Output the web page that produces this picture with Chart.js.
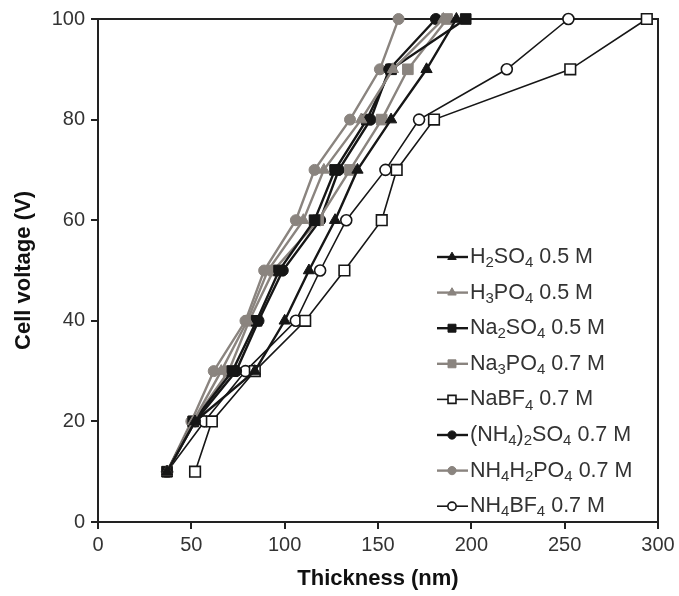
<!DOCTYPE html>
<html>
<head>
<meta charset="utf-8">
<title>Cell voltage vs thickness</title>
<script src="https://cdn.jsdelivr.net/npm/chart.js@4.4.1/dist/chart.umd.min.js"></script>
<style>
  body { margin: 0; background: #fff; }
  canvas { display: block; }
</style>
</head>
<body>
<canvas id="chart" width="679" height="596"></canvas>
<script>
// cell voltage steps (V) and film thickness (nm) per electrolyte
const voltages = [10, 20, 30, 40, 50, 60, 70, 80, 90, 100];

const h2so4    = [37, 52, 84, 100, 113, 127, 139, 157, 176, 192];
const h3po4    = [37, 51, 66, 80, 91, 110, 121, 141, 158, 185];
const na2so4   = [37, 51, 72, 85, 97, 116, 127, 144, 157, 197];
const na3po4   = [37, 51, 70, 81, 94, 118, 135, 152, 166, 187];
const nabf4    = [52, 61, 84, 111, 132, 152, 160, 180, 253, 294];
const nh4_2so4 = [37, 52, 74, 86, 99, 119, 129, 146, 156, 181];
const nh4h2po4 = [37, 50, 62, 79, 89, 106, 116, 135, 151, 161];
const nh4bf4   = [37, 57, 79, 106, 119, 133, 154, 172, 219, 252];

// legend names, "_n" = subscript digit
const names = [
  'H_2SO_4 0.5 M',
  'H_3PO_4 0.5 M',
  'Na_2SO_4 0.5 M',
  'Na_3PO_4 0.7 M',
  'NaBF_4 0.7 M',
  '(NH_4)_2SO_4 0.7 M',
  'NH_4H_2PO_4 0.7 M',
  'NH_4BF_4 0.7 M'
];

const xTicks = [0, 50, 100, 150, 200, 250, 300];
const yTicks = [0, 20, 40, 60, 80, 100];

const BLACK = '#161616';
const GREY = '#8a847f';

function pts(xs) {
  return xs.map((x, i) => ({ x: x, y: voltages[i] }));
}

function serie(i, xs, color, style, open) {
  return {
    label: names[i].replace(/_/g, ''),
    data: pts(xs),
    showLine: true,
    borderColor: open ? BLACK : color,
    borderWidth: open ? 1.6 : 2.4,
    pointStyle: style,
    pointRadius: style == 'rect' ? 7.5 : (style == 'triangle' ? 6.5 : 5.5),
    pointBackgroundColor: open ? '#fff' : color,
    pointBorderColor: open ? BLACK : color,
    pointBorderWidth: open ? 1.6 : 1,
    clip: false
  };
}

function drawRich(ctx, text, x, y) {
  const parts = text.split(/(_\d)/);
  let cx = x;
  parts.forEach(p => {
    if (!p) return;
    if (p[0] == '_') {
      ctx.font = '15px "Liberation Sans", Arial, sans-serif';
      ctx.fillText(p[1], cx, y + 6);
      cx += ctx.measureText(p[1]).width;
    } else {
      ctx.font = '21.5px "Liberation Sans", Arial, sans-serif';
      ctx.fillText(p, cx, y);
      cx += ctx.measureText(p).width;
    }
  });
}

// box round the plot and the legend inside it
const framePlugin = {
  id: 'frame',
  beforeDatasetsDraw(chart) {
    const a = chart.chartArea;
    const ctx = chart.ctx;
    ctx.save();
    ctx.strokeStyle = '#222';
    ctx.lineWidth = 2;
    ctx.strokeRect(a.left, a.top, a.right - a.left, a.bottom - a.top);
    ctx.restore();
  },
  afterDraw(chart) {
    const ctx = chart.ctx;
    ctx.save();
    chart.data.datasets.forEach((ds, i) => {
      const y = 257 + i * 35.6;
      ctx.strokeStyle = ds.borderColor;
      ctx.lineWidth = ds.borderWidth;
      ctx.beginPath();
      ctx.moveTo(437, y);
      ctx.lineTo(468, y);
      ctx.stroke();
      ctx.fillStyle = ds.pointBackgroundColor;
      ctx.strokeStyle = ds.pointBorderColor;
      ctx.lineWidth = ds.pointBorderWidth;
      Chart.helpers.drawPoint(ctx, {
        pointStyle: ds.pointStyle,
        radius: ds.pointRadius * 0.75,
        rotation: 0,
        borderWidth: ds.pointBorderWidth
      }, 452, y);
      ctx.fillStyle = '#333';
      ctx.textBaseline = 'middle';
      ctx.textAlign = 'left';
      drawRich(ctx, names[i], 470, y);
    });
    ctx.restore();
  }
};

new Chart(document.getElementById('chart').getContext('2d'), {
  type: 'scatter',
  data: {
    datasets: [
      serie(0, h2so4, BLACK, 'triangle', false),
      serie(1, h3po4, GREY, 'triangle', false),
      serie(2, na2so4, BLACK, 'rect', false),
      serie(3, na3po4, GREY, 'rect', false),
      serie(4, nabf4, BLACK, 'rect', true),
      serie(5, nh4_2so4, BLACK, 'circle', false),
      serie(6, nh4h2po4, GREY, 'circle', false),
      serie(7, nh4bf4, BLACK, 'circle', true)
    ]
  },
  options: {
    responsive: false,
    animation: false,
    layout: { padding: { top: 19, right: 21, left: 7, bottom: 0 } },
    plugins: {
      legend: { display: false },
      tooltip: { enabled: false }
    },
    scales: {
      x: {
        type: 'linear',
        min: 0,
        max: 300,
        afterBuildTicks: s => { s.ticks = xTicks.map(v => ({ value: v })); },
        afterFit: s => { s.height = 74; },
        grid: { drawOnChartArea: false, tickLength: 7, color: '#222', lineWidth: 2 },
        border: { color: '#222', width: 2 },
        ticks: { color: '#333', font: { size: 20, family: '"Liberation Sans", Arial' }, padding: 4 },
        title: {
          display: true,
          text: 'Thickness (nm)',
          color: '#111',
          font: { size: 22, weight: 'bold', family: '"Liberation Sans", Arial' },
          padding: { top: 0 }
        }
      },
      y: {
        type: 'linear',
        min: 0,
        max: 100,
        afterBuildTicks: s => { s.ticks = yTicks.map(v => ({ value: v })); },
        afterFit: s => { s.width = 91; },
        grid: { drawOnChartArea: false, tickLength: 7, color: '#222', lineWidth: 2 },
        border: { color: '#222', width: 2 },
        ticks: { color: '#333', font: { size: 20, family: '"Liberation Sans", Arial' }, padding: 6 },
        title: {
          display: true,
          text: 'Cell voltage (V)',
          color: '#111',
          font: { size: 22, weight: 'bold', family: '"Liberation Sans", Arial' },
          padding: { bottom: 4 }
        }
      }
    }
  },
  plugins: [framePlugin]
});
</script>
</body>
</html>
